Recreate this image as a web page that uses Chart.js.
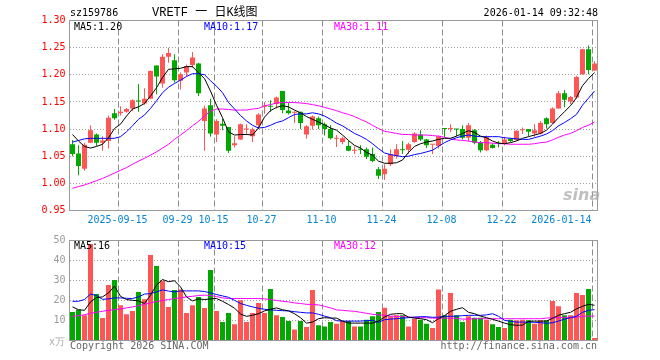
<!DOCTYPE html>
<html><head><meta charset="utf-8">
<script src="https://cdn.jsdelivr.net/npm/chart.js@4.4.1/dist/chart.umd.min.js"></script>
<style>
html,body{margin:0;padding:0;background:#fff;}
#wrap{position:relative;width:660px;height:360px;overflow:hidden;background:#fff;font-family:"DejaVu Sans Mono",monospace;font-size:10px;}
canvas{position:absolute;left:0;}
.t{position:absolute;white-space:pre;line-height:12px;z-index:2;}
</style></head><body>
<div id="wrap">
<canvas id="kc" width="660" height="232" style="top:0px"></canvas>
<canvas id="vc" width="660" height="130" style="top:230px"></canvas>
<div class="t" style="left:70px;top:7px;color:#000;">sz159786</div>
<div class="t" style="left:152px;top:6px;color:#000;font:12px/14px 'Liberation Mono','Noto Sans CJK SC';">VRETF 一 日K线图</div>
<div class="t" style="right:62px;top:7px;color:#000;">2026-01-14 09:32:48</div>
<div class="t" style="left:74px;top:21px;color:#000;">MA5:1.20</div>
<div class="t" style="left:204px;top:21px;color:#0000ff;">MA10:1.17</div>
<div class="t" style="left:334px;top:21px;color:#ff00ff;">MA30:1.11</div>
<div class="t" style="left:74px;top:240px;color:#000;">MA5:16</div>
<div class="t" style="left:204px;top:240px;color:#0000ff;">MA10:15</div>
<div class="t" style="left:334px;top:240px;color:#ff00ff;">MA30:12</div>
<div class="t" style="left:49px;top:336px;color:#aaa;">x万</div>
<div class="t" style="left:70px;top:340px;color:#666;">Copyright 2026 SINA.COM</div>
<div class="t" style="right:63px;top:340px;color:#666;">http://finance.sina.com.cn</div>
<div class="t" style="left:563px;top:186px;color:rgba(170,170,170,0.75);font:italic bold 16px/18px 'DejaVu Sans';">sina</div>
</div>
<script>
const dates = [
'2025-09-03','2025-09-04','2025-09-05','2025-09-08','2025-09-09','2025-09-10','2025-09-11','2025-09-12',
'2025-09-15','2025-09-16','2025-09-17','2025-09-18','2025-09-19','2025-09-22','2025-09-23','2025-09-24','2025-09-25','2025-09-26',
'2025-09-29','2025-09-30','2025-10-09','2025-10-10','2025-10-13','2025-10-14',
'2025-10-15','2025-10-16','2025-10-17','2025-10-20','2025-10-21','2025-10-22','2025-10-23','2025-10-24',
'2025-10-27','2025-10-28','2025-10-29','2025-10-30','2025-10-31','2025-11-03','2025-11-04','2025-11-05','2025-11-06','2025-11-07',
'2025-11-10','2025-11-11','2025-11-12','2025-11-13','2025-11-14','2025-11-17','2025-11-18','2025-11-19','2025-11-20','2025-11-21',
'2025-11-24','2025-11-25','2025-11-26','2025-11-27','2025-11-28','2025-12-01','2025-12-02','2025-12-03','2025-12-04','2025-12-05',
'2025-12-08','2025-12-09','2025-12-10','2025-12-11','2025-12-12','2025-12-15','2025-12-16','2025-12-17','2025-12-18','2025-12-19',
'2025-12-22','2025-12-23','2025-12-24','2025-12-25','2025-12-26','2025-12-29','2025-12-30','2025-12-31',
'2026-01-05','2026-01-06','2026-01-07','2026-01-08','2026-01-09','2026-01-12','2026-01-13','2026-01-14'];

const tickDates = ['2025-09-15','2025-09-29','2025-10-15','2025-10-27','2025-11-10','2025-11-24','2025-12-08','2025-12-22','2026-01-14'];
const tickTexts = ['2025-09-15','09-29','10-15','10-27','11-10','11-24','12-08','12-22','2026-01-14'];
const priceTicks = [0.95,1.00,1.05,1.10,1.15,1.20,1.25,1.30];
const volTicks = [0,10,20,30,40,50];

const open = [
1.072,1.055,1.027,1.075,1.090,1.075,1.078,1.129,1.129,1.132,
1.138,1.152,1.147,1.156,1.217,1.184,1.233,1.227,1.189,1.204,
1.218,1.221,1.115,1.144,1.090,1.110,1.104,1.070,1.081,1.099,
1.087,1.107,1.141,1.143,1.146,1.170,1.134,1.130,1.132,1.090,
1.106,1.120,1.109,1.100,1.082,1.076,1.069,1.060,1.063,1.063,
1.054,1.026,1.017,1.035,1.051,1.062,1.062,1.076,1.090,1.081,
1.071,1.069,1.101,1.100,1.100,1.100,1.084,1.098,1.075,1.061,
1.071,1.074,1.074,1.082,1.080,1.098,1.100,1.092,1.092,1.120,
1.111,1.138,1.166,1.151,1.158,1.201,1.247,1.208];
const high = [
1.080,1.070,1.075,1.107,1.092,1.087,1.125,1.137,1.142,1.139,
1.155,1.183,1.175,1.208,1.217,1.238,1.250,1.238,1.204,1.219,
1.242,1.222,1.143,1.156,1.118,1.119,1.104,1.087,1.110,1.109,
1.103,1.129,1.150,1.153,1.160,1.170,1.148,1.133,1.132,1.107,
1.125,1.123,1.112,1.107,1.089,1.086,1.078,1.068,1.070,1.066,
1.066,1.030,1.035,1.063,1.072,1.078,1.075,1.094,1.098,1.082,
1.072,1.088,1.101,1.109,1.100,1.107,1.111,1.100,1.078,1.088,
1.074,1.078,1.086,1.084,1.098,1.103,1.100,1.109,1.115,1.122,
1.140,1.170,1.172,1.161,1.198,1.248,1.254,1.225];
const low = [
1.050,1.015,1.023,1.074,1.069,1.060,1.064,1.117,1.125,1.130,
1.133,1.132,1.145,1.155,1.164,1.176,1.222,1.186,1.173,1.197,
1.213,1.161,1.060,1.086,1.076,1.098,1.056,1.066,1.080,1.089,
1.076,1.100,1.128,1.132,1.138,1.129,1.127,1.111,1.100,1.082,
1.099,1.100,1.088,1.081,1.067,1.072,1.059,1.054,1.054,1.045,
1.039,1.008,1.006,1.032,1.046,1.054,1.054,1.075,1.078,1.065,
1.054,1.064,1.085,1.094,1.087,1.081,1.077,1.072,1.057,1.059,
1.064,1.066,1.070,1.076,1.078,1.091,1.087,1.086,1.090,1.101,
1.110,1.137,1.140,1.146,1.156,1.200,1.201,1.207];
const close = [
1.054,1.032,1.071,1.098,1.075,1.079,1.121,1.120,1.132,1.137,
1.153,1.151,1.156,1.207,1.197,1.233,1.240,1.190,1.201,1.216,
1.232,1.166,1.138,1.092,1.115,1.106,1.060,1.074,1.109,1.100,
1.099,1.127,1.143,1.141,1.158,1.135,1.129,1.132,1.111,1.105,
1.123,1.107,1.100,1.083,1.083,1.083,1.060,1.061,1.062,1.049,
1.041,1.014,1.027,1.054,1.063,1.061,1.072,1.092,1.081,1.070,
1.072,1.087,1.100,1.101,1.099,1.084,1.107,1.075,1.061,1.085,
1.065,1.073,1.081,1.078,1.097,1.099,1.095,1.098,1.111,1.109,
1.138,1.166,1.154,1.159,1.196,1.247,1.209,1.221];

const ma5 = [
1.090,1.078,1.068,1.065,1.068,1.072,1.084,1.101,1.109,1.124,
1.137,1.141,1.147,1.161,1.176,1.195,1.210,1.211,1.212,1.215,
1.215,1.204,1.193,1.170,1.144,1.121,1.095,1.089,1.090,1.090,
1.089,1.102,1.122,1.134,1.140,1.143,1.141,1.135,1.130,1.123,
1.118,1.113,1.108,1.102,1.098,1.089,1.079,1.070,1.065,1.057,
1.052,1.041,1.037,1.037,1.038,1.043,1.057,1.068,1.073,1.076,
1.078,1.081,1.083,1.083,1.087,1.092,1.097,1.094,1.087,1.084,
1.078,1.074,1.073,1.075,1.078,1.083,1.086,1.089,1.092,1.098,
1.109,1.121,1.132,1.143,1.158,1.180,1.193,1.204];
const ma10 = [
1.076,1.079,1.082,1.083,1.083,1.083,1.083,1.083,1.086,1.095,
1.106,1.118,1.126,1.138,1.152,1.167,1.177,1.184,1.190,1.197,
1.202,1.202,1.200,1.189,1.179,1.167,1.149,1.137,1.125,1.115,
1.107,1.102,1.103,1.107,1.112,1.115,1.121,1.127,1.128,1.128,
1.130,1.128,1.124,1.118,1.111,1.106,1.099,1.092,1.087,1.081,
1.073,1.064,1.056,1.053,1.051,1.049,1.050,1.053,1.055,1.058,
1.061,1.068,1.075,1.080,1.084,1.087,1.089,1.087,1.086,1.086,
1.086,1.086,1.084,1.083,1.082,1.081,1.081,1.084,1.087,1.091,
1.097,1.106,1.112,1.119,1.127,1.144,1.157,1.170];
const ma30 = [
0.991,0.994,0.997,1.001,1.005,1.009,1.014,1.019,1.024,1.029,
1.035,1.041,1.046,1.052,1.058,1.065,1.072,1.081,1.089,1.097,
1.106,1.114,1.124,1.133,1.137,1.137,1.136,1.135,1.135,1.135,
1.137,1.138,1.143,1.145,1.148,1.149,1.149,1.149,1.148,1.147,
1.145,1.143,1.140,1.137,1.134,1.130,1.127,1.123,1.118,1.113,
1.107,1.101,1.096,1.094,1.092,1.090,1.090,1.089,1.089,1.089,
1.088,1.087,1.085,1.082,1.080,1.079,1.078,1.076,1.075,1.075,
1.074,1.073,1.073,1.072,1.072,1.072,1.072,1.073,1.075,1.076,
1.080,1.085,1.089,1.092,1.097,1.103,1.107,1.113];

const volume = [
14.3,15.4,12.6,48.3,23.2,11.2,27.7,30.2,17.6,13.1,
14.8,24.3,20.6,42.8,37.2,29.9,16.8,25.2,25.5,13.8,
17.6,21.8,16.3,35.2,14.8,9.2,13.8,8.1,20.1,9.2,
13.8,18.8,13.8,25.7,12.6,11.7,9.7,5.5,9.7,6.7,
25.2,7.6,7.0,9.2,8.4,9.7,9.7,7.0,7.0,10.4,
12.1,14.3,16.4,12.1,12.6,12.6,7.0,10.9,10.4,8.4,
6.2,25.5,12.6,23.8,12.6,9.2,12.1,11.4,11.4,10.4,
8.1,6.7,6.2,10.4,10.1,10.4,10.1,8.4,10.1,10.1,
19.8,17.1,12.6,12.6,23.8,22.7,25.7,1.2];
const vma5 = [
16.8,15.4,15.1,19.3,21.5,21.8,23.8,27.2,22.1,20.5,
20.1,19.8,18.5,22.7,27.7,30.5,29.4,29.9,26.8,21.8,
19.8,20.8,20.5,20.8,21.0,19.6,18.0,16.2,13.2,12.1,
12.6,13.4,14.8,15.6,16.3,15.4,14.8,13.4,11.4,8.7,
9.2,10.9,11.4,11.2,11.2,9.7,8.7,8.7,8.7,8.7,
8.7,9.7,11.7,13.1,13.4,13.4,11.7,11.2,10.9,10.4,
8.9,10.9,12.4,14.6,15.6,16.4,14.1,13.4,12.2,11.4,
10.6,9.7,8.7,7.9,7.6,7.7,9.6,9.7,9.7,9.7,
11.1,12.6,13.4,14.1,15.8,17.1,18.1,17.6];
const vma10 = [
19.6,19.6,20.5,23.2,22.5,20.6,20.8,21.3,21.3,21.1,
21.0,21.8,23.2,23.5,24.3,25.3,24.7,24.3,24.8,24.8,
24.8,24.8,24.5,23.8,23.0,22.3,21.6,20.1,18.5,17.6,
16.8,16.1,15.6,15.3,15.1,14.9,14.8,14.4,14.1,13.8,
13.8,13.1,12.2,11.4,9.9,9.7,9.7,9.7,9.7,9.9,
10.1,9.1,10.4,10.7,10.9,11.2,11.4,11.7,11.9,11.9,
11.6,11.7,12.1,12.1,12.2,12.4,12.6,12.6,12.6,12.8,
13.4,12.1,10.1,9.6,9.2,9.2,9.2,9.1,8.9,8.6,
8.9,9.7,10.7,11.4,12.1,14.1,15.1,15.4];
const vma30 = [
12.1,12.4,12.9,13.6,14.1,14.6,15.1,15.4,15.8,16.3,
16.8,17.4,18.1,18.8,19.5,20.0,20.5,21.0,21.3,21.8,
22.1,22.5,22.7,22.5,22.0,21.3,21.0,21.0,21.0,21.0,
21.0,21.0,20.8,20.5,20.0,19.6,19.3,18.8,18.5,18.1,
18.0,17.8,17.1,16.3,15.3,15.1,14.8,14.6,14.1,13.6,
13.1,12.8,12.6,12.2,12.1,11.9,11.7,11.6,11.4,11.4,
11.2,11.1,11.2,11.2,11.1,10.7,10.7,10.9,10.9,10.9,
10.9,10.9,10.9,10.9,10.9,10.9,10.9,10.9,10.9,11.2,
11.4,11.4,11.6,11.6,11.7,12.1,12.2,12.2];

const RED = '#ff5555', GREEN = '#00a800';
const FONT = '"DejaVu Sans Mono", monospace';
const candleColors = close.map((c, i) => c >= open[i] ? RED : GREEN);
const tickLabel = i => { const k = tickDates.indexOf(dates[i]); return k < 0 ? '' : tickTexts[k]; };

Chart.defaults.font.family = FONT;
Chart.defaults.font.size = 10;

// vertical dashed grid lines at the labelled dates, placed through the x scale (drawn under the marks)
const vgrid = {
  id: 'vgrid',
  beforeDatasetsDraw(c) {
    const {ctx, chartArea: a} = c;
    const xs = c.scales.x;
    const step = xs.getPixelForValue(1) - xs.getPixelForValue(0);
    ctx.save();
    ctx.strokeStyle = '#8c8c8c';
    ctx.lineWidth = 1;
    ctx.setLineDash([6, 3]);
    for (let i = 0; i < dates.length; i++) {
      if (tickLabel(i) === '') continue;
      const px = Math.round(xs.getPixelForValue(i) - step / 2) + 0.5;
      ctx.beginPath();
      ctx.moveTo(px, a.top);
      ctx.lineTo(px, a.bottom);
      ctx.stroke();
    }
    ctx.restore();
  }
};

const frame = {
  id: 'frame',
  afterDraw(c) {
    const {ctx, chartArea: a} = c;
    ctx.save();
    ctx.strokeStyle = '#999999';
    ctx.lineWidth = 1;
    ctx.strokeRect(a.left, a.top, a.right - a.left, a.bottom - a.top);
    ctx.restore();
  }
};

const lineDs = (data, color) => ({type: 'line', data, borderColor: color, borderWidth: 1, pointRadius: 0, tension: 0, order: 0, fill: false});

const xScale = (showTicks, h) => ({
  type: 'category', offset: true,
  grid: {display: false, drawTicks: false},
  border: {display: false},
  ticks: {display: showTicks, autoSkip: false, maxRotation: 0, minRotation: 0, align: 'inner', labelOffset: -3, padding: 4,
          color: '#0585d5', font: {family: FONT, size: 10}, callback: (v, i) => tickLabel(i)},
  afterFit: s => { s.height = h; }
});

new Chart(document.getElementById('kc'), {
  type: 'bar',
  data: {
    labels: dates,
    datasets: [
      lineDs(ma5, '#000000'),
      lineDs(ma10, '#0000ff'),
      lineDs(ma30, '#ff00ff'),
      {type: 'bar', data: open.map((o, i) => [o, close[i]]), backgroundColor: candleColors, barThickness: 5, grouped: false, minBarLength: 1, inflateAmount: 0, borderWidth: 0, order: 1},
      {type: 'bar', data: low.map((l, i) => [l, high[i]]), backgroundColor: candleColors, barThickness: 1, grouped: false, minBarLength: 1, inflateAmount: 0, borderWidth: 0, order: 2}
    ]
  },
  options: {
    responsive: false, animation: false, devicePixelRatio: 1, events: [],
    layout: {padding: {left: 0, right: 62.5, top: 20.5, bottom: 0}},
    plugins: {legend: {display: false}, tooltip: {enabled: false}},
    scales: {
      x: xScale(true, 21.5),
      y: {
        min: priceTicks[0], max: priceTicks[priceTicks.length - 1],
        afterBuildTicks: s => { s.ticks = priceTicks.map(v => ({value: v})); },
        ticks: {color: '#ff0000', padding: 4, font: {family: FONT, size: 10}, callback: v => Number(v).toFixed(2)},
        grid: {color: '#a0a0a0', drawTicks: false, lineWidth: 1},
        border: {display: false, dash: [1, 2]},
        afterFit: s => { s.width = 69.5; }
      }
    }
  },
  plugins: [vgrid, frame]
});

new Chart(document.getElementById('vc'), {
  type: 'bar',
  data: {
    labels: dates,
    datasets: [
      lineDs(vma5, '#000000'),
      lineDs(vma10, '#0000ff'),
      lineDs(vma30, '#ff00ff'),
      {type: 'bar', data: volume, backgroundColor: candleColors, barThickness: 5, grouped: false, inflateAmount: 0, borderWidth: 0, order: 1}
    ]
  },
  options: {
    responsive: false, animation: false, devicePixelRatio: 1, events: [],
    layout: {padding: {left: 0, right: 62.5, top: 10.5, bottom: 0}},
    plugins: {legend: {display: false}, tooltip: {enabled: false}},
    scales: {
      x: xScale(false, 19.5),
      y: {
        min: volTicks[0], max: volTicks[volTicks.length - 1],
        afterBuildTicks: s => { s.ticks = volTicks.map(v => ({value: v})); },
        ticks: {color: '#999999', padding: 4, font: {family: FONT, size: 10}, callback: v => v === 0 ? '' : String(v)},
        grid: {color: '#a0a0a0', drawTicks: false, lineWidth: 1},
        border: {display: false, dash: [1, 2]},
        afterFit: s => { s.width = 69.5; }
      }
    }
  },
  plugins: [vgrid, frame]
});
</script>
</body></html>
